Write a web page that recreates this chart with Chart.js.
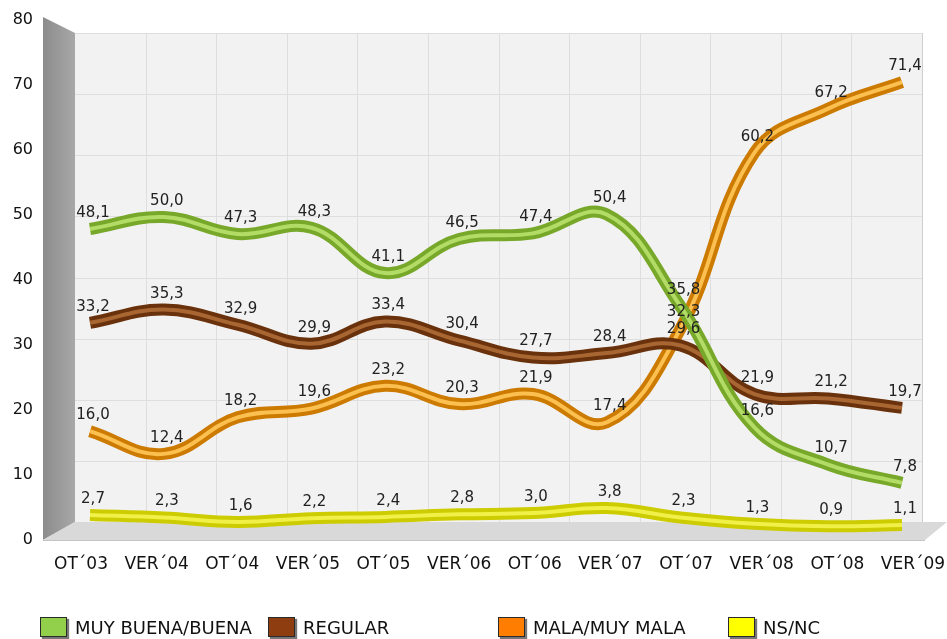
<!DOCTYPE html>
<html>
<head>
<meta charset="utf-8">
<script src="https://cdn.jsdelivr.net/npm/chart.js@4"></script>
<style>
  body { margin: 0; background: #fff; }
  #wrap { position: relative; width: 947px; height: 639px; }
  .leg { position: absolute; top: 617px; height: 20px; font: 18px "DejaVu Sans", sans-serif; color: #111; display: flex; align-items: center; white-space: nowrap; }
  .leg i { display: inline-block; width: 25px; height: 18px; margin-right: 8px; border: 1px solid #2a2a2a; box-shadow: 2px 2px 1px #777; }
</style>
</head>
<body>
<div id="wrap">
  <canvas id="line-chart" width="947" height="639"></canvas>
  <div class="leg" style="left:40px"><i style="background:#92cf4a"></i>MUY BUENA/BUENA</div>
  <div class="leg" style="left:268px"><i style="background:#8e3d10"></i>REGULAR</div>
  <div class="leg" style="left:498px"><i style="background:#ff7d00"></i>MALA/MUY MALA</div>
  <div class="leg" style="left:728px"><i style="background:#ffff00"></i>NS/NC</div>
</div>
<script>
var periods = ["OT´03","VER´04","OT´04","VER´05","OT´05","VER´06","OT´06","VER´07","OT´07","VER´08","OT´08","VER´09"];
var buena   = [48.1, 50.0, 47.3, 48.3, 41.1, 46.5, 47.4, 50.4, 35.8, 16.6, 10.7, 7.8];
var regular = [33.2, 35.3, 32.9, 29.9, 33.4, 30.4, 27.7, 28.4, 29.6, 21.9, 21.2, 19.7];
var mala    = [16.0, 12.4, 18.2, 19.6, 23.2, 20.3, 21.9, 17.4, 32.3, 60.2, 67.2, 71.4];
var nsnc    = [2.7, 2.3, 1.6, 2.2, 2.4, 2.8, 3.0, 3.8, 2.3, 1.3, 0.9, 1.1];
var yTicks  = [0, 10, 20, 30, 40, 50, 60, 70, 80];

// outer colour, highlight colour
var series = [
  {name: "MUY BUENA/BUENA", data: buena,   dark: "#78a82a", light: "#b2dc66"},
  {name: "REGULAR",         data: regular, dark: "#6a320c", light: "#a86632"},
  {name: "MALA/MUY MALA",   data: mala,    dark: "#cc7a00", light: "#fbc050"},
  {name: "NS/NC",           data: nsnc,    dark: "#cccc00", light: "#f0f048"}
];

// the lines sit on the 3D back wall, so they get their own (hidden) axes
function pts(arr) { return arr.map(function(v, i) { return {x: i, y: v}; }); }

var datasets = [];
series.forEach(function(s, i) {
  datasets.push({label: s.name + " hl", data: pts(s.data), borderColor: s.light, borderWidth: 4,
    pointRadius: 0, tension: 0.4, order: i * 2, xAxisID: "xd", yAxisID: "yd"});
  datasets.push({label: s.name, data: pts(s.data), borderColor: s.dark, borderWidth: 12,
    pointRadius: 0, tension: 0.4, order: i * 2 + 1, xAxisID: "xd", yAxisID: "yd", isMain: true});
});

// gray 3D walls behind the plot
var walls = {
  id: "walls",
  beforeDraw: function(chart) {
    var c = chart.ctx, a = chart.chartArea;
    var bl = a.left - 6, br = a.right + 9, bt = a.top + 13, bb = a.bottom - 18;
    var wl = a.left - 38;
    c.save();
    c.fillStyle = "#f2f2f2";
    c.fillRect(bl, bt, br - bl, bb - bt);
    c.strokeStyle = "#dedede"; c.lineWidth = 1;
    for (var k = 0; k < yTicks.length; k++) {
      var y = Math.round(bt + k * (bb - bt) / (yTicks.length - 1)) + 0.5;
      c.beginPath(); c.moveTo(bl, y); c.lineTo(br, y); c.stroke();
    }
    for (var j = 1; j < periods.length; j++) {
      var x = Math.round(bl + j * (br - bl) / periods.length) + 0.5;
      c.beginPath(); c.moveTo(x, bt); c.lineTo(x, bb); c.stroke();
    }
    c.strokeStyle = "#cfcfcf";
    c.beginPath(); c.moveTo(br + 0.5, bt); c.lineTo(br + 0.5, bb); c.stroke();
    // left wall
    var g = c.createLinearGradient(wl, 0, bl, 0);
    g.addColorStop(0, "#8c8c8c"); g.addColorStop(1, "#a8a8a8");
    c.fillStyle = g;
    c.beginPath();
    c.moveTo(wl, a.top - 3);
    c.lineTo(bl, bt);
    c.lineTo(bl, bb);
    c.lineTo(wl, a.bottom);
    c.closePath(); c.fill();
    // floor
    c.fillStyle = "#d9d9d9";
    c.beginPath();
    c.moveTo(wl, a.bottom);
    c.lineTo(bl, bb);
    c.lineTo(a.right + 34, bb);
    c.lineTo(a.right + 12, a.bottom);
    c.closePath(); c.fill();
    c.strokeStyle = "#c4c4c4";
    c.beginPath(); c.moveTo(wl, a.bottom + 0.5); c.lineTo(a.right + 12, a.bottom + 0.5); c.stroke();
    c.restore();
  }
};

// value labels with comma decimals
var valueLabels = {
  id: "valueLabels",
  afterDatasetsDraw: function(chart) {
    var c = chart.ctx;
    c.save();
    c.font = "15px 'DejaVu Sans', sans-serif";
    c.fillStyle = "#222";
    c.textAlign = "center";
    c.textBaseline = "middle";
    chart.data.datasets.forEach(function(ds, di) {
      if (!ds.isMain) return;
      chart.getDatasetMeta(di).data.forEach(function(pt, i) {
        c.fillText(ds.data[i].y.toFixed(1).replace(".", ","), pt.x + 3, pt.y - 16);
      });
    });
    c.restore();
  }
};

function noPad(s) { s.paddingTop = 0; s.paddingBottom = 0; s.paddingLeft = 0; s.paddingRight = 0; }

new Chart(document.getElementById("line-chart"), {
  type: 'line',
  data: { labels: periods, datasets: datasets },
  plugins: [walls, valueLabels],
  options: {
    responsive: false,
    animation: false,
    layout: { autoPadding: false, padding: { left: 5, right: 34, top: 20, bottom: 59 } },
    plugins: { legend: { display: false }, tooltip: { enabled: false } },
    scales: {
      x: {
        type: "category",
        offset: false,
        grid: { display: false, drawTicks: false },
        border: { display: false },
        ticks: { color: "#111", padding: 14, maxRotation: 0, autoSkip: false,
                 font: { size: 17, family: "'DejaVu Sans', sans-serif" } },
        afterFit: function(s) { s.height = 40; noPad(s); }
      },
      y: {
        min: 0, max: 80,
        afterBuildTicks: function(s) { s.ticks = yTicks.map(function(v) { return {value: v}; }); },
        grid: { display: false, drawTicks: false },
        border: { display: false },
        ticks: { color: "#111", padding: 48, font: { size: 16, family: "'DejaVu Sans', sans-serif" } },
        afterFit: function(s) { s.width = 76; noPad(s); }
      },
      xd: { type: "linear", display: false, min: -0.122, max: 11.149 },
      yd: { type: "linear", display: false, min: -1.27, max: 81.27 }
    }
  }
});
</script>
</body>
</html>
